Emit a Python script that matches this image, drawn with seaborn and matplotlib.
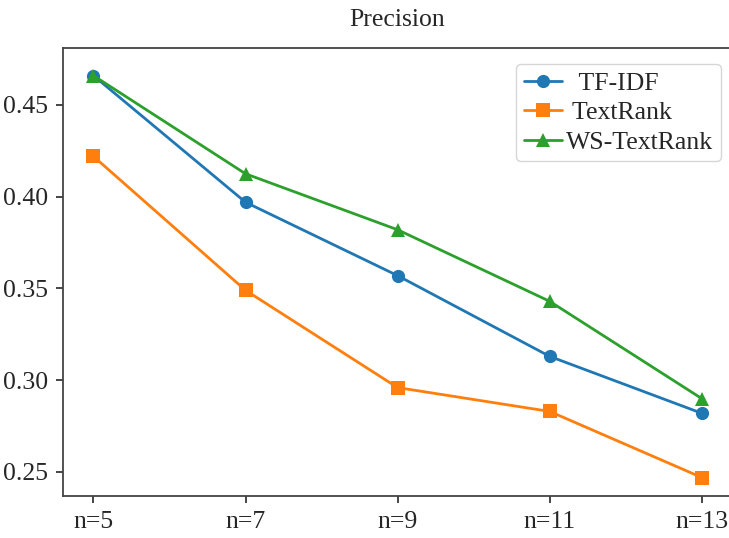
import pandas as pd
import matplotlib
matplotlib.use('Agg')
import matplotlib.pyplot as plt
import seaborn as sns

n_labels = ['n=5', 'n=7', 'n=9', 'n=11', 'n=13']
tfidf = [0.466, 0.397, 0.357, 0.313, 0.282]
textrank = [0.422, 0.349, 0.296, 0.283, 0.247]
ws_textrank = [0.466, 0.4125, 0.382, 0.343, 0.290]
methods = ['  TF-IDF', ' TextRank', 'WS-TextRank']

df = pd.DataFrame({
    'n': n_labels * 3,
    'precision': tfidf + textrank + ws_textrank,
    'method': [methods[0]] * 5 + [methods[1]] * 5 + [methods[2]] * 5,
})

sns.set_theme(style='ticks')
plt.rcParams['font.family'] = ['Liberation Serif', 'DejaVu Serif']

fig = plt.figure(figsize=(7.29, 5.38), dpi=100)
ax = fig.add_axes([0.0864, 0.078, 0.918, 0.832])

sns.lineplot(data=df, x='n', y='precision', hue='method', style='method',
             markers=['o', 's', '^'], dashes=False, markersize=9.5,
             linewidth=2, markeredgewidth=0,
             palette=['#1f77b4', '#ff7f0e', '#2ca02c'], ax=ax)

ax.set_xlim(-0.2, 4.2)
ax.set_ylim(0.2369, 0.4808)
ax.set_yticks([0.25, 0.30, 0.35, 0.40, 0.45])
ax.set_xlabel('')
ax.set_ylabel('')
ax.set_title('Precision', fontsize=18.5, pad=16)
ax.tick_params(labelsize=18.5, length=5, width=1.2, pad=6)
for s in ax.spines.values():
    s.set_color('#444444')
    s.set_linewidth(1.3)

leg = ax.legend(loc='upper right', bbox_to_anchor=(0.983, 0.965), fontsize=18.5,
                handlelength=1.5, handletextpad=0.15, labelspacing=0.25,
                borderpad=0.3, borderaxespad=0, frameon=True)
leg.get_frame().set_edgecolor('#cccccc')

fig.savefig('out.png', dpi=100)
